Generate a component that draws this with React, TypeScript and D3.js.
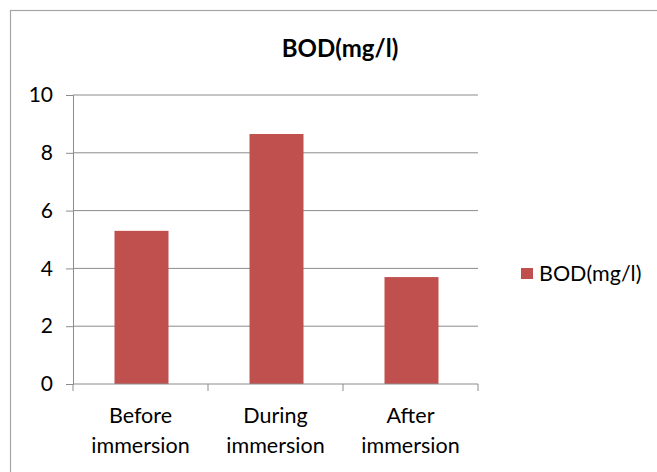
import { useEffect, useRef } from "react";
import * as d3 from "d3";

const categories = ["Before immersion", "During immersion", "After immersion"];
const bodValues = [5.3, 8.65, 3.7];
const yTicks = [0, 2, 4, 6, 8, 10];
const seriesName = "BOD(mg/l)";
const chartTitle = "BOD(mg/l)";

export default function App() {
  const svgRef = useRef<SVGSVGElement>(null);
  const width = 657;
  const height = 472;

  useEffect(() => {
    document.body.style.margin = "0";
    if (!svgRef.current) return;
    const svg = d3.select(svgRef.current);
    svg.selectAll("*").remove();

    const font = "Lato, 'Open Sans', sans-serif";
    const plot = { left: 73, right: 478, top: 95, bottom: 384 };

    // Outer chart border (right/bottom run off the picture)
    svg.append("rect")
      .attr("x", 10.5)
      .attr("y", 10.5)
      .attr("width", 700)
      .attr("height", 500)
      .attr("fill", "white")
      .attr("stroke", "#a6a6a6")
      .attr("stroke-width", 1.2);

    const x = d3.scaleBand<string>()
      .domain(categories)
      .range([plot.left, plot.right])
      .paddingInner(0.6)
      .paddingOuter(0.3);

    const y = d3.scaleLinear()
      .domain([0, 10])
      .range([plot.bottom, plot.top]);

    // Gridlines
    svg.append("g")
      .selectAll("line")
      .data(yTicks.filter(d => d > 0))
      .join("line")
      .attr("x1", plot.left)
      .attr("x2", plot.right)
      .attr("y1", d => y(d))
      .attr("y2", d => y(d))
      .attr("stroke", "#8c8c8c")
      .attr("stroke-width", 1);

    // Bars
    svg.append("g")
      .selectAll("rect")
      .data(bodValues)
      .join("rect")
      .attr("x", (_, i) => (x(categories[i]) as number) + 1)
      .attr("y", d => y(d))
      .attr("width", x.bandwidth())
      .attr("height", d => y(0) - y(d))
      .attr("fill", "#C0504D");

    // Y axis
    const yAxis = d3.axisLeft(y)
      .tickValues(yTicks)
      .tickSize(7)
      .tickPadding(13)
      .tickFormat(d => `${d}`);

    const yg = svg.append("g")
      .attr("transform", `translate(${plot.left},0)`)
      .call(yAxis);
    yg.select(".domain").attr("stroke", "#8c8c8c");
    yg.selectAll(".tick line").attr("stroke", "#8c8c8c");
    yg.selectAll("text")
      .attr("fill", "#000")
      .attr("font-family", font)
      .attr("font-size", "21px");

    // X axis: ticks between categories
    const bounds = [plot.left, ...categories.map((_, i) => plot.left + (i + 1) * x.step())];
    svg.append("line")
      .attr("x1", plot.left)
      .attr("x2", plot.right)
      .attr("y1", y(0))
      .attr("y2", y(0))
      .attr("stroke", "#8c8c8c");
    svg.append("g")
      .selectAll("line")
      .data(bounds)
      .join("line")
      .attr("x1", d => d)
      .attr("x2", d => d)
      .attr("y1", y(0))
      .attr("y2", y(0) + 7)
      .attr("stroke", "#8c8c8c");

    // Category labels (two lines)
    const labels = svg.append("g")
      .selectAll("text")
      .data(categories)
      .join("text")
      .attr("text-anchor", "middle")
      .attr("font-family", font)
      .attr("font-size", "21.5px")
      .attr("fill", "#000");
    labels.each(function (d) {
      const parts = d.split(" ");
      const cx = (x(d) as number) + x.bandwidth() / 2;
      d3.select(this).selectAll("tspan")
        .data(parts)
        .join("tspan")
        .attr("x", cx)
        .attr("y", (_, i) => 423 + i * 30)
        .text(t => t);
    });

    // Title
    svg.append("text")
      .attr("x", 340)
      .attr("y", 57)
      .attr("text-anchor", "middle")
      .attr("font-family", font)
      .attr("font-weight", "bold")
      .attr("font-size", "24px")
      .attr("fill", "#000")
      .text(chartTitle);

    // Legend
    svg.append("rect")
      .attr("x", 521)
      .attr("y", 268)
      .attr("width", 12)
      .attr("height", 11)
      .attr("fill", "#C0504D");
    svg.append("text")
      .attr("x", 539)
      .attr("y", 281)
      .attr("font-family", font)
      .attr("font-size", "21.5px")
      .attr("fill", "#000")
      .text(seriesName);
  }, []);

  return <svg ref={svgRef} width={width} height={height} style={{ display: "block" }} />;
}
